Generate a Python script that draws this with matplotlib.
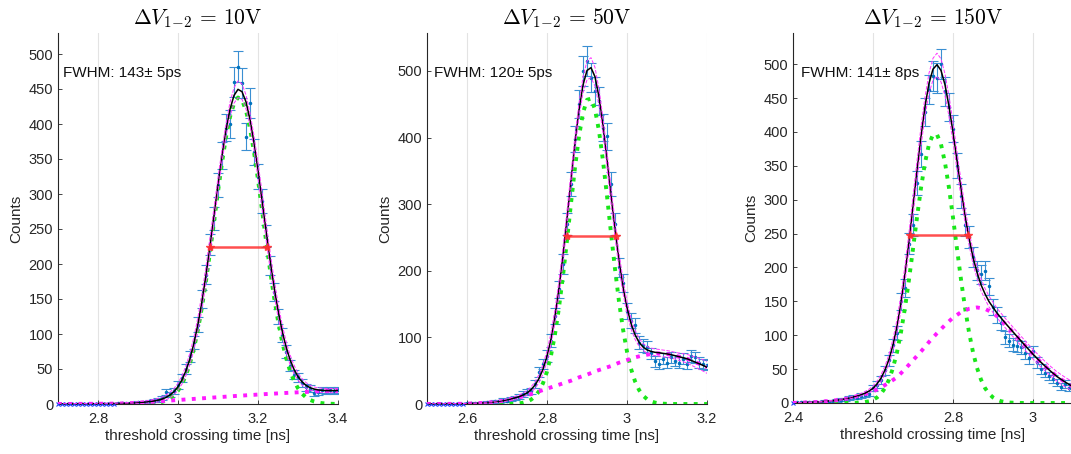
import numpy as np
import matplotlib.pyplot as plt
from matplotlib.ticker import FuncFormatter

plt.rcParams['font.family'] = ['Liberation Sans', 'DejaVu Sans']
plt.rcParams['mathtext.fontset'] = 'cm'

# --- data (bins 10 ps wide) ---
titles = [r'$\Delta V_{1\!-\!2}\,=\,10\mathrm{V}$', r'$\Delta V_{1\!-\!2}\,=\,50\mathrm{V}$',
          r'$\Delta V_{1\!-\!2}\,=\,150\mathrm{V}$']
fwhm_text = ['FWHM: 143\u00b1 5ps', 'FWHM: 120\u00b1 5ps', 'FWHM: 141\u00b1 8ps']
x_start = [2.70, 2.50, 2.40]
xlims = [(2.7, 3.4), (2.5, 3.2), (2.4, 3.1)]
ylims = [(0, 530), (0, 557), (0, 546)]
xticks = [[2.8, 3.0, 3.2, 3.4], [2.6, 2.8, 3.0, 3.2], [2.4, 2.6, 2.8, 3.0]]
yticks = [np.arange(0, 501, 50), np.arange(0, 501, 100), np.arange(0, 501, 50)]

# FWHM marker: [left, right], height
fwhm_x = [[3.079, 3.222], [2.849, 2.972], [2.693, 2.838]]
fwhm_y = [225, 252, 248]

counts_10 = [0] * 15 + [
    1, 1, 2, 1, 2, 3, 2, 3, 4, 5, 6, 8, 17, 14, 19,
    27, 37, 50, 68, 88, 113, 150, 185, 228, 265,
    313, 355, 395, 400, 460, 482, 458, 382, 430, 360,
    325, 290, 240, 198, 160, 125, 98, 75, 55, 42,
    38, 30, 24, 22, 16, 17, 20, 19, 20, 18, 20]
green_10 = [0] * 20 + [
    0.1, 0.2, 0.3, 0.5, 1.0, 1.7, 2.9, 4.9, 7.9, 12.4,
    19.0, 28.4, 41.2, 58.1, 79.8, 106.7, 138.8, 175.9, 216.8, 260.0,
    303.5, 344.7, 381.1, 410.1, 429.5, 437.8, 434.2, 419.2, 393.8, 360.0,
    320.4, 277.5, 233.9, 191.8, 153.1, 119.0, 90.0, 66.2, 47.4, 33.1,
    22.4, 14.8, 9.5, 5.9, 3.6, 2.1, 1.2, 0.7, 0.4, 0.2, 0.1]
tail_10 = [
    0.1, 0.1, 0.1, 0.1, 0.2, 0.2, 0.2, 0.3, 0.3, 0.3, 0.4, 0.4, 0.5, 0.5, 0.6,
    0.7, 0.8, 1.0, 1.2, 1.5, 1.8, 2.1, 2.5, 2.9, 3.3,
    3.7, 4.1, 4.5, 4.9, 5.3, 5.7, 6.1, 6.5, 6.9, 7.3,
    7.7, 8.1, 8.5, 8.9, 9.3, 9.7, 10.1, 10.5, 10.9, 11.3,
    11.7, 12.0, 12.4, 12.8, 13.1, 13.5, 13.8, 14.2, 14.5, 14.8,
    15.2, 15.5, 15.8, 16.1, 16.4, 16.7, 17.0, 17.2, 17.5, 17.8,
    18.0, 18.3, 18.5, 18.7, 19.0, 19.2]
fit_10 = [
    0.1, 0.1, 0.1, 0.1, 0.2, 0.2, 0.2, 0.3, 0.3, 0.3, 0.4, 0.4, 0.5, 0.5, 0.6,
    0.7, 0.8, 1.0, 1.2, 1.5, 1.9, 2.3, 2.8, 3.4, 4.3,
    5.4, 7.0, 9.4, 12.8, 17.7, 24.7, 34.5, 47.7, 65.0, 87.1,
    114.4, 146.9, 184.4, 225.7, 269.3, 313.2, 354.8, 391.6, 421.0, 440.8,
    449.5, 446.2, 431.6, 406.6, 373.1, 333.9, 291.3, 248.1, 206.3, 167.9,
    134.2, 105.5, 82.0, 63.5, 49.5, 39.1, 31.8, 26.7, 23.4, 21.4,
    20.1, 19.5, 19.2, 19.1, 19.2, 19.3]
band_10 = [0.5] * 15 + [
    0.8, 0.9, 1, 1, 1.2, 1.4, 1.6, 1.8, 2, 2.3,
    2.6, 3, 3.5, 4, 4.5, 5, 6, 7, 8, 9,
    10, 11, 12, 12, 11, 10, 9, 9, 10, 11,
    12, 11, 10, 9, 10, 11, 12, 12, 12, 11,
    10, 9, 8, 7, 6, 5, 4.5, 4, 3.5, 3,
    3, 3, 3, 3, 3, 3]

counts_50 = [0] * 10 + [
    1, 1, 2, 1, 2, 3, 2, 4, 4, 6,
    5, 8, 9, 11, 15, 18, 20, 30, 48, 60,
    72, 95, 132, 172, 210, 270, 330, 398, 450, 500,
    515, 490, 470, 455, 415, 402, 330, 270, 205, 182,
    140, 125, 118, 92, 88, 86, 76, 64, 60, 68,
    62, 70, 65, 62, 68, 60, 72, 70, 62, 60, 58]
green_50 = [0] * 20 + [
    0.1, 0.2, 0.45, 0.95, 1.9, 3.5, 6.5, 11.4, 19.2, 31.2,
    48.6, 72.8, 104.8, 144.9, 192.5, 245.6, 301.3, 355.0, 401.8, 437.0,
    456.7, 458.5, 442.3, 410.0, 365.1, 312.3, 256.7, 202.8, 153.9, 112.2,
    78.6, 52.9, 34.2, 21.2, 12.7, 7.3, 4.0, 2.1, 1.0, 0.5,
    0.2, 0.1] + [0] * 9
tail_50 = [
    0, 0, 0.1, 0.1, 0.1, 0.2, 0.2, 0.3, 0.3, 0.4,
    0.5, 0.7, 1, 1.3, 1.7, 2, 2.5, 3, 3.8, 4.8,
    6, 7.3, 8.7, 10, 11.5, 13, 15, 17, 19, 21,
    23, 25, 27, 29, 31, 33, 35, 37.5, 40, 42,
    44, 46.5, 49, 51, 53, 55, 57, 59.5, 62, 64,
    66, 68, 70, 71.5, 73, 74, 75, 75.5, 76, 75.5,
    75, 74, 72.5, 71, 69.5, 68, 65.5, 63, 60.5, 58, 55]
fit_50 = [
    0, 0, 0.1, 0.1, 0.1, 0.2, 0.2, 0.3, 0.3, 0.4,
    0.5, 0.7, 1, 1.3, 1.7, 2, 2.5, 3, 3.8, 4.8,
    6.1, 7.5, 9.2, 10.9, 13.4, 16.5, 21.5, 28.4, 38.2, 52.2,
    71.6, 97.8, 131.8, 173.9, 223.5, 278.6, 336.3, 392.5, 441.8, 479.0,
    500.7, 505.0, 491.3, 461.0, 418.1, 367.3, 313.7, 262.3, 215.9, 176.2,
    144.6, 120.9, 104.2, 92.7, 85.7, 81.3, 79.0, 77.6, 77.0, 76.0,
    75.2, 74.1, 72.5, 71, 69.5, 68, 65.5, 63, 60.5, 58, 55]
band_50 = [0.3] * 10 + [
    0.5, 0.5, 0.6, 0.7, 0.8, 0.9, 1, 1.2, 1.4, 1.6,
    1.8, 2, 2.3, 2.6, 3, 3.5, 4, 5, 6, 7,
    8, 9, 10, 11, 12, 12, 11, 10, 10, 12,
    14, 15, 14, 12, 11, 12, 12, 12, 11, 10,
    9, 8, 7, 6, 5, 5, 5, 5, 5, 5,
    5, 5, 5, 5.5, 6, 6.5, 7, 7.5, 8, 8.5, 9]

counts_150 = [
    0, 1, 1, 2, 1, 2, 2, 1, 3, 2,
    3, 4, 5, 5, 7, 9, 8, 11, 12, 14,
    22, 27, 34, 48, 63, 85, 103, 150, 170, 235,
    262, 325, 368, 430, 462, 482, 480, 500, 460, 437,
    405, 350, 305, 262, 245, 215, 196, 190, 195, 172,
    142, 130, 118, 97, 92, 86, 84, 82, 74, 66,
    76, 60, 50, 45, 40, 35, 30, 24, 28, 22, 25]
green_150 = [0] * 15 + [
    0.2, 0.4, 0.7, 1.4, 2.6,
    4.7, 8.2, 13.7, 22.1, 34.5, 51.8, 75.0, 104.6, 140.7, 182.2,
    227.5, 273.7, 317.3, 354.6, 381.8, 396.2, 396.2, 381.8, 354.6, 317.3,
    273.7, 227.5, 182.2, 140.7, 104.6, 75.0, 51.8, 34.5, 22.1, 13.7,
    8.2, 4.7, 2.6, 1.4, 0.7, 0.4, 0.2, 0.1, 0, 0] + [0] * 11
tail_150 = [
    0.2, 0.3, 0.5, 0.7, 1, 1.2, 1.5, 2, 2.5, 3,
    3.5, 4.2, 5, 6, 7, 8.5, 10, 11.5, 13, 15,
    17, 20, 23, 26.5, 30, 34, 38, 44, 50, 56.5,
    63, 69.5, 76, 83, 90, 96.5, 103, 109, 115, 120.5,
    126, 130, 134, 136.5, 139, 140, 141, 140, 139, 136,
    133, 128, 123, 117, 111, 104.5, 98, 91.5, 85, 78.5,
    72, 66, 60, 54.5, 49, 44, 39, 35, 31, 27.5, 24]
fit_150 = [
    0.2, 0.3, 0.5, 0.7, 1, 1.2, 1.5, 2, 2.5, 3,
    3.5, 4.2, 5, 6, 7, 8.7, 10.4, 12.2, 14.4, 17.6,
    21.7, 28.2, 36.7, 48.6, 64.5, 85.8, 113.0, 148.6, 190.7, 238.7,
    290.5, 343.2, 393.3, 437.6, 471.8, 492.7, 499.2, 490.8, 469.6, 437.8,
    399.7, 357.5, 316.2, 277.2, 243.6, 215.0, 192.8, 174.5, 161.1, 149.7,
    141.2, 132.7, 125.6, 118.4, 111.7, 104.9, 98.2, 91.6, 85, 78.5,
    72, 66, 60, 54.5, 49, 44, 39, 35, 31, 27.5, 24]
band_150 = [0.5] * 10 + [
    0.6, 0.7, 0.8, 1, 1.2, 1.4, 1.7, 2, 2.4, 2.8,
    3.3, 4, 5, 6, 7, 8.5, 10, 11, 12, 13,
    14, 14, 14, 14, 15, 16, 17, 17, 16, 15,
    14, 13, 12, 11, 10, 10, 9, 9, 8, 8,
    7.5, 7, 7, 7, 7, 7, 7, 7, 7, 7,
    7, 7, 7, 7, 7, 7, 7, 7, 7, 7, 7]

counts = [counts_10, counts_50, counts_150]
greens = [green_10, green_50, green_150]
tails = [tail_10, tail_50, tail_150]
fits = [fit_10, fit_50, fit_150]
bands = [band_10, band_50, band_150]
bin_width = 0.01

# axes boxes in pixels: left, top, bottom (figure is 1071 x 454)
boxes = [(58, 33, 404), (427, 33, 404), (793, 33, 403)]
W, H = 1071, 454

fig = plt.figure(figsize=(W / 100, H / 100), dpi=100)
fmt = FuncFormatter(lambda v, p: '%g' % round(v, 2))

for i in range(3):
    left, top, bottom = boxes[i]
    ax = fig.add_axes([left / W, (H - bottom) / H, 280 / W, (bottom - top) / H])

    c = np.array(counts[i], dtype=float)
    x = x_start[i] + bin_width * np.arange(len(c))
    nz = c > 0

    ax.errorbar(x[nz], c[nz], yerr=np.sqrt(c[nz]), fmt='.', ms=3, color='#0072BD',
                ecolor='#3a8fd2', elinewidth=0.8, capsize=3.4, capthick=0.8, zorder=2)
    ax.plot(x[~nz], c[~nz], 'x', color='#2040ff', ms=3.5, mew=0.8, clip_on=False, zorder=3)

    ax.plot(x, greens[i], ':', color='#19e619', lw=2.8, zorder=3)
    ax.plot(x, tails[i], ':', color='#ff19ff', lw=2.8, zorder=3)
    fit = np.array(fits[i])
    band = np.array(bands[i])
    ax.plot(x, fit, '-', color='black', lw=1.1, zorder=4)
    ax.plot(x, fit + band, '--', color='#ff33ff', lw=0.7, zorder=4)
    ax.plot(x, fit - band, '--', color='#ff33ff', lw=0.7, zorder=4)

    ax.plot(fwhm_x[i], [fwhm_y[i]] * 2, '-', color='#ff3030', lw=1.8, alpha=0.85,
            marker='*', ms=6, zorder=5)

    ax.text(0.018 + 0.006 * i, 0.893, fwhm_text[i], transform=ax.transAxes,
            fontsize=11, va='center', ha='left', color='#111111')

    ax.set_xlim(*xlims[i])
    ax.set_ylim(*ylims[i])
    ax.set_xticks(xticks[i])
    ax.set_yticks(yticks[i])
    ax.xaxis.set_major_formatter(fmt)
    ax.grid(axis='x', color='#e3e3e3', lw=0.8)
    ax.set_axisbelow(True)
    for s in ['top', 'right']:
        ax.spines[s].set_visible(False)
    for s in ['left', 'bottom']:
        ax.spines[s].set_color('#262626')
        ax.spines[s].set_linewidth(0.8)
    ax.tick_params(direction='in', length=3, width=0.6, colors='#262626', labelsize=10.5)
    ax.tick_params(axis='x', pad=6)

    ax.set_title(titles[i], fontsize=15.5, pad=6)
    ax.set_xlabel('threshold crossing time [ns]', fontsize=11, color='#262626', labelpad=2)
    ax.set_ylabel('Counts', fontsize=11, color='#262626', labelpad=4)

fig.savefig('out.png', dpi=100)
